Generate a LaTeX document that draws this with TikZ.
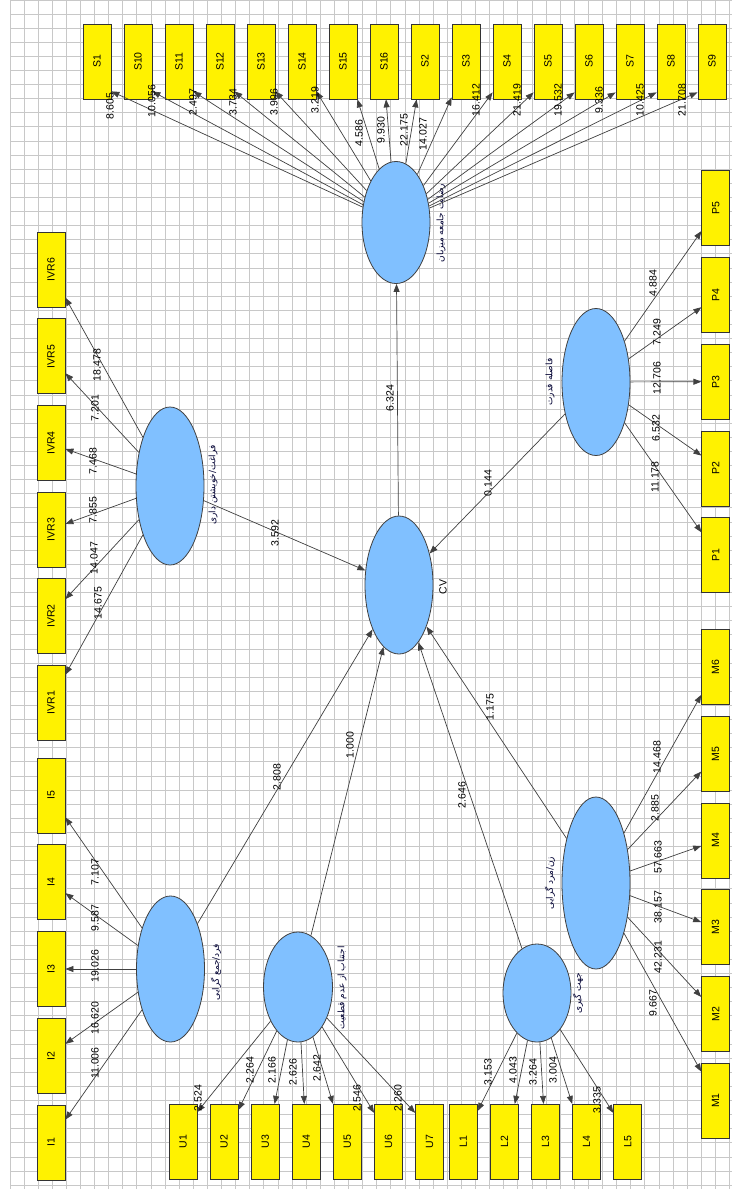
\documentclass[tikz,border=0pt]{standalone}
\usepackage{fontspec}
\setmainfont{Liberation Sans}
\newfontfamily\fa[Script=Arabic]{DejaVu Sans}
\TeXXeTstate=1
\usetikzlibrary{arrows.meta,shapes.geometric,calc}
\definecolor{lvblue}{HTML}{80C0FF}
\definecolor{gridc}{HTML}{C8C8C8}
\definecolor{linec}{HTML}{404040}
\begin{document}
\begin{tikzpicture}[x=1pt,y=1pt,
 gridl/.style={draw=gridc, line width=1pt},
 box/.style={draw=black!80, fill=yellow, line width=0.8pt, minimum width=28pt, minimum height=75pt, inner sep=0pt, font=\fontsize{10.5}{12}\selectfont},
 lat/.style={ellipse, draw=black!75, fill=lvblue, line width=0.8pt, inner sep=0pt},
 arr/.style={draw=linec, line width=0.7pt, -{Triangle[length=8pt,width=6pt]}},
 num/.style={rotate=90, inner sep=0pt, font=\fontsize{10.5}{12}\selectfont},
 fal/.style={rotate=90, inner sep=0pt, font=\fa\fontsize{9}{10}\selectfont, text=black!80!blue},
]
\fill[white] (0,0) rectangle (732,-1189);
\useasboundingbox (0,0) rectangle (732,-1189);
\foreach \k in {0,...,51} \draw[gridl] ({10+14.11*\k},0) -- ({10+14.11*\k},-1189);
\foreach \k in {0,...,84} \draw[gridl] (10,{-14.11*\k}) -- (732,{-14.11*\k});

% indicator boxes
\foreach \n [count=\i from 0] in {1,10,11,12,13,14,15,16,2,3,4,5,6,7,8,9}
  \node[box] (S\n) at ({97+41*\i},-61.5) {\rotatebox{90}{S\n}};
\foreach \k in {1,...,6}
  \node[box] (IVR\k) at (51,{-(269.8+86.55*(6-\k))}) {\rotatebox{90}{IVR\k}};
\foreach \k in {1,...,5}
  \node[box] (I\k) at (51,{-(795.5+86.75*(5-\k))}) {\rotatebox{90}{I\k}};
\foreach \k in {1,...,7}
  \node[box] (U\k) at ({183+41.1*(\k-1)},-1141.8) {\rotatebox{90}{U\k}};
\foreach \k in {1,...,5}
  \node[box] (L\k) at ({463.3+41.1*(\k-1)},-1141.8) {\rotatebox{90}{L\k}};
\foreach \k in {1,...,6}
  \node[box] (M\k) at (715.6,{-(1100.5-86.7*(\k-1))}) {\rotatebox{90}{M\k}};
\foreach \k in {1,...,5}
  \node[box] (P\k) at (715.8,{-(555.2-86.75*(\k-1))}) {\rotatebox{90}{P\k}};

% latent variables
\node[lat, minimum width=68pt, minimum height=122pt] (Sl) at (396,-222.5) {};
\node[lat, minimum width=68pt, minimum height=158pt] (IVRl) at (170,-486) {};
\node[lat, minimum width=68pt, minimum height=146pt] (Il) at (170.5,-969) {};
\node[lat, minimum width=69pt, minimum height=110pt] (Ul) at (298,-987) {};
\node[lat, minimum width=68pt, minimum height=98pt] (Ll) at (537,-993) {};
\node[lat, minimum width=68pt, minimum height=172pt] (Ml) at (596,-883) {};
\node[lat, minimum width=68pt, minimum height=147pt] (Pl) at (596,-382) {};
\node[lat, minimum width=68pt, minimum height=138pt] (CV) at (399,-585) {};

% latent labels
\node[num, font=\fontsize{10.5}{12}\selectfont] (lCV) at (443,-587) {CV};
\node[fal] (lS) at (441,-223) {\beginR رضایت جامعه میزبان\endR};
\node[fal] (lIVR) at (213,-485) {\beginR فراغت/خویشتن داری\endR};
\node[fal] (lI) at (216,-972) {\beginR فرد/جمع گرایی\endR};
\node[fal] (lU) at (342,-988) {\beginR اجتناب از عدم قطعیت\endR};
\node[fal] (lL) at (578,-993) {\beginR جهت گیری\endR};
\node[fal] (lM) at (550,-883) {\beginR زن/مرد گرایی\endR};
\node[fal] (lP) at (550,-382) {\beginR فاصله قدرت\endR};

% target coordinates on indicator boxes
\foreach \n in {1,10,11,12,13,14} \coordinate (tS\n) at ($(S\n.south east)+(0,8)$);
\coordinate (tS15) at (S15.south east);
\coordinate (tS16) at ($(S16.south)+(2,0)$);
\coordinate (tS2) at ($(S2.south west)+(6,0)$);
\coordinate (tS3) at ($(S3.south west)+(0,2)$);
\foreach \n in {4,5,6,7,8,9} \coordinate (tS\n) at ($(S\n.south west)+(0,7)$);

\coordinate (tIVR6) at ($(IVR6.south east)+(0,10)$);
\coordinate (tIVR5) at ($(IVR5.south east)+(0,21)$);
\coordinate (tIVR4) at ($(IVR4.east)+(0,-6)$);
\coordinate (tIVR3) at ($(IVR3.east)+(0,5.5)$);
\coordinate (tIVR2) at ($(IVR2.north east)+(0,-21)$);
\coordinate (tIVR1) at ($(IVR1.north east)+(0,-10)$);

\coordinate (tI5) at ($(I5.south east)+(0,16)$);
\coordinate (tI4) at ($(I4.south east)+(0,27)$);
\coordinate (tI3) at (I3.east);
\coordinate (tI2) at ($(I2.north east)+(0,-26)$);
\coordinate (tI1) at ($(I1.north east)+(0,-15)$);

\coordinate (tU1) at ($(U1.north east)+(0,-8)$);
\coordinate (tU2) at ($(U2.north east)+(0,-6)$);
\coordinate (tU3) at ($(U3.north east)+(-5,0)$);
\coordinate (tU4) at ($(U4.north)+(-2,0)$);
\coordinate (tU5) at (U5.north west);
\coordinate (tU6) at ($(U6.north west)+(0,-9)$);
\coordinate (tU7) at ($(U7.north west)+(0,-9)$);

\coordinate (tL1) at ($(L1.north east)+(0,-7)$);
\coordinate (tL2) at ($(L2.north east)+(-4,0)$);
\coordinate (tL3) at ($(L3.north)+(-2,0)$);
\coordinate (tL4) at (L4.north west);
\coordinate (tL5) at ($(L5.north west)+(0,-9)$);

\coordinate (tM1) at ($(M1.north west)+(0,-9)$);
\coordinate (tM2) at ($(M2.north west)+(0,-21)$);
\coordinate (tM3) at ($(M3.west)+(0,5)$);
\coordinate (tM4) at ($(M4.west)+(0,-5.5)$);
\coordinate (tM5) at ($(M5.south west)+(0,20)$);
\coordinate (tM6) at ($(M6.south west)+(0,10)$);

\coordinate (tP5) at ($(P5.south west)+(0,15)$);
\coordinate (tP4) at ($(P4.south west)+(0,25.6)$);
\coordinate (tP3) at (P3.west);
\coordinate (tP2) at ($(P2.north west)+(0,-25)$);
\coordinate (tP1) at ($(P1.north west)+(0,-15)$);

% loadings
\foreach \n in {1,10,11,12,13,14,15,16,2,3,4,5,6,7,8,9} \draw[arr] (Sl) -- (tS\n);
\foreach \k in {1,...,6} \draw[arr] (IVRl) -- (tIVR\k);
\foreach \k in {1,...,5} \draw[arr] (Il) -- (tI\k);
\foreach \k in {1,...,7} \draw[arr] (Ul) -- (tU\k);
\foreach \k in {1,...,5} \draw[arr] (Ll) -- (tL\k);
\foreach \k in {1,...,6} \draw[arr] (Ml) -- (tM\k);
\foreach \k in {1,...,5} \draw[arr] (Pl) -- (tP\k);

% structural paths
\draw[arr] (CV) -- (Sl);
\draw[arr] (Pl) -- (CV);
\draw[arr] (IVRl) -- (CV);
\draw[arr] (Il) -- (CV);
\draw[arr] (Ul) -- (CV);
\draw[arr] (Ll) -- (CV);
\draw[arr] (Ml) -- (CV);

% numbers
\foreach \t/\x/\y in {8.605/110/106, 10.056/151.7/101, 2.497/193/102, 3.734/233/102, 3.996/274/102, 3.219/315/100, 4.586/359/133, 9.930/381/130, 22.175/404/130, 14.027/423/134, 16.412/476/100, 21.419/517/100, 19.532/558/100, 9.336/599/100, 10.425/640/100, 21.708/682/100,
 18.478/97/365, 7.201/95/408, 7.468/93/461, 7.855/93/510, 14.047/94/558, 14.675/98/603,
 7.107/95/872, 9.587/95/918, 19.026/95/966, 16.620/95/1018, 11.006/95/1063,
 2.524/198/1098, 2.264/250/1070, 2.166/272/1070, 2.626/293/1072, 2.642/317/1068, 2.546/357/1098, 2.260/398/1098,
 3.153/488/1072, 4.043/513/1070, 3.264/533/1072, 3.004/553/1070, 3.335/597/1100,
 14.468/657/757, 2.885/655/808, 57.663/658/857, 38.157/658/907, 42.231/658/957, 9.667/653/1003,
 4.884/653/283, 7.249/657/332, 12.706/657/378, 6.532/656/428, 11.178/655/477,
 6.324/390/398, 0.144/488/483, 3.592/275/533, 2.808/277/777, 1.000/350/745, 2.646/462/795, 1.175/490/707}
 \node[num] at (\x,-\y) {\t};
\end{tikzpicture}
\end{document}
